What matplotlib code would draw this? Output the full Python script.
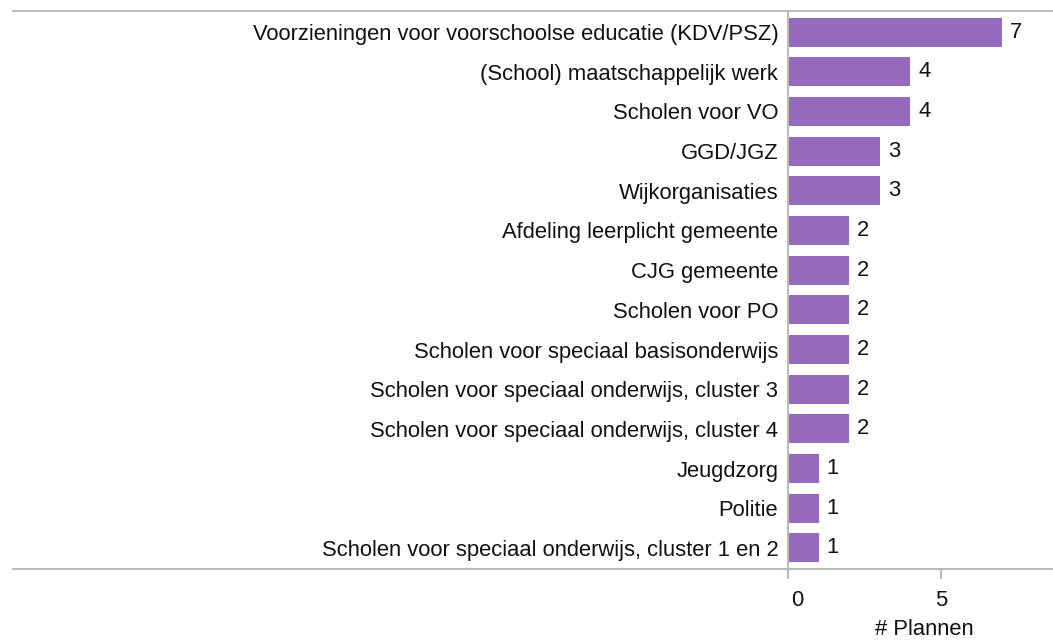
import matplotlib
matplotlib.use("Agg")
import matplotlib.pyplot as plt
from matplotlib.lines import Line2D
import matplotlib.transforms as mtransforms

categories = [
    "Voorzieningen voor voorschoolse educatie (KDV/PSZ)",
    "(School) maatschappelijk werk",
    "Scholen voor VO",
    "GGD/JGZ",
    "Wijkorganisaties",
    "Afdeling leerplicht gemeente",
    "CJG gemeente",
    "Scholen voor PO",
    "Scholen voor speciaal basisonderwijs",
    "Scholen voor speciaal onderwijs, cluster 3",
    "Scholen voor speciaal onderwijs, cluster 4",
    "Jeugdzorg",
    "Politie",
    "Scholen voor speciaal onderwijs, cluster 1 en 2",
]
values = [7, 4, 4, 3, 3, 2, 2, 2, 2, 2, 2, 1, 1, 1]
x_ticks = [0, 5]
x_label = "# Plannen"

plt.rcParams['font.family'] = ['Liberation Sans', 'DejaVu Sans']
FS = 15.8
TXT = '#111111'
W, H = 1053, 640
fig = plt.figure(figsize=(W / 100, H / 100), dpi=100)
left, right, top, bottom = 788, 1053, 11, 569
ax = fig.add_axes([left / W, 1 - bottom / H, (right - left) / W, (bottom - top) / H])

n = len(categories)
ypos = list(range(n))
ax.barh(ypos, values, height=0.73, color='#9569bb')
ax.set_ylim(n - 1 + 0.53, -0.53)
ax.set_xlim(0, (right - left) / 30.6)

for y, v in zip(ypos, values):
    ax.text(v + 0.26, y, str(v), va='center', ha='left', fontsize=FS, color=TXT)

ax.set_yticks(ypos)
ax.set_yticklabels(categories, fontsize=FS, color=TXT)
ax.tick_params(axis='y', length=0, pad=7)
ax.set_xticks(x_ticks)
ax.set_xticklabels([str(t) for t in x_ticks], fontsize=FS, color=TXT)
ax.tick_params(axis='x', length=7, width=1.5, color='#bbbbbb', pad=8, direction='out')
lbls = ax.get_xticklabels()
lbls[0].set_transform(lbls[0].get_transform() + mtransforms.ScaledTranslation(9 / 100, 0, fig.dpi_scale_trans))
ax.set_xlabel(x_label, fontsize=FS, color=TXT, labelpad=6)
ax.xaxis.label.set_transform(ax.xaxis.label.get_transform() + mtransforms.ScaledTranslation(4 / 100, 0, fig.dpi_scale_trans))

for s in ['top', 'right', 'bottom']:
    ax.spines[s].set_visible(False)
ax.spines['left'].set_color('#bbbbbb')
ax.spines['left'].set_linewidth(1.5)

for yy in (top, bottom):
    fig.add_artist(Line2D([13 / W, 1.0], [1 - yy / H, 1 - yy / H], color='#bbbbbb', lw=1.5,
                          transform=fig.transFigure))

fig.savefig('out.png', dpi=100)
